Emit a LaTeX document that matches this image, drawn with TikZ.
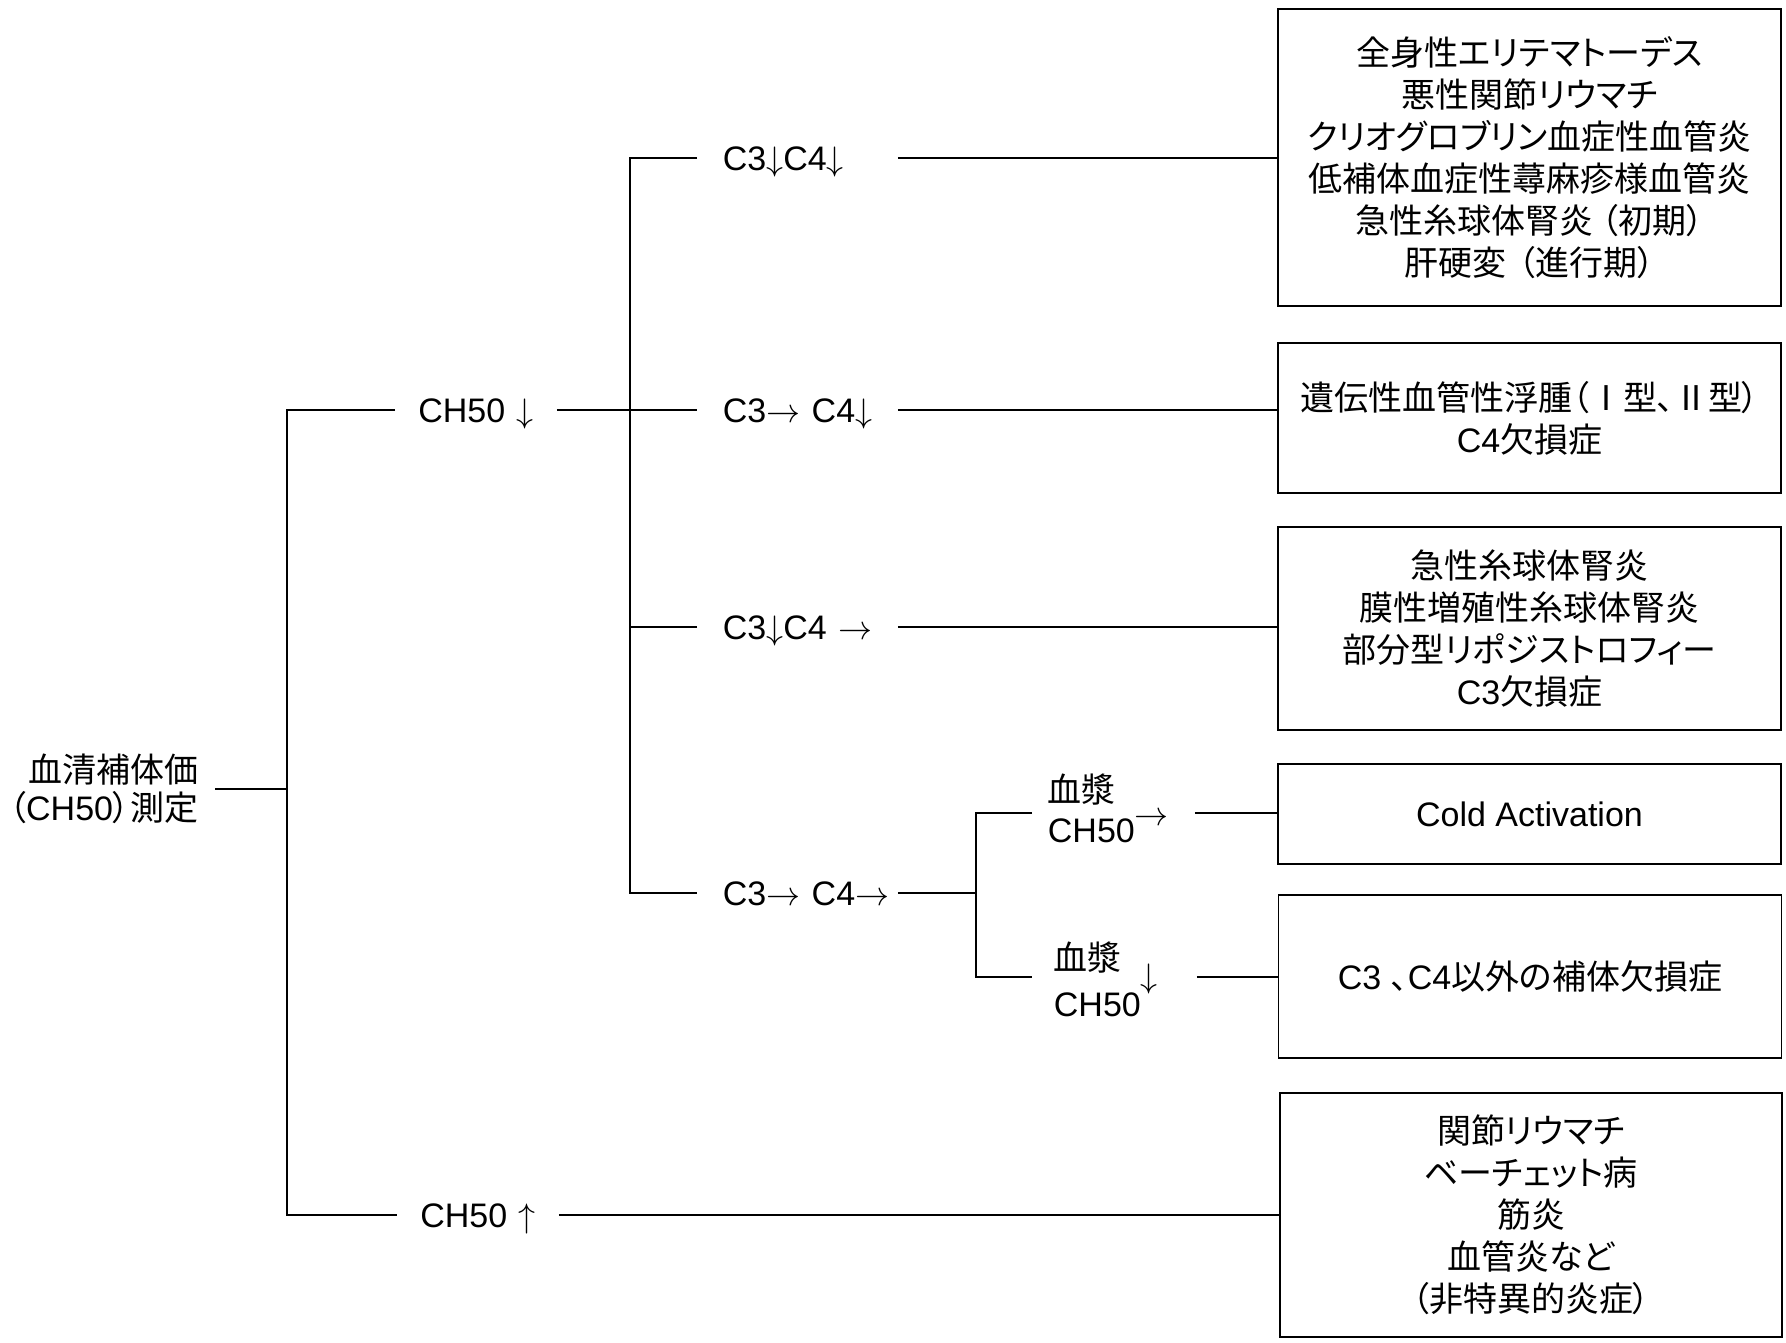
\RequirePackage{fix-cm}
\documentclass[tikz,border=0pt]{standalone}
\usepackage{fontspec}
\setmainfont{Liberation Sans}
\newfontfamily\jp[RawFeature=+palt]{Noto Sans CJK JP}
\newcommand\J[1]{{\jp #1}}
\newcommand\dn{$\downarrow$}
\newcommand\up{$\uparrow$}
\newcommand\rt{$\rightarrow$}
\begin{document}
\begin{tikzpicture}[x=1pt,y=-1pt,line width=1.8pt,
  box/.style={draw,line width=1.6pt,minimum width=503pt,align=center,inner sep=0pt,font=\fontsize{34}{42}\selectfont},
  clab/.style={anchor=west,inner xsep=25pt,inner ysep=0pt,text width=149pt,align=left,font=\fontsize{34}{40}\selectfont,text height=25pt,text depth=0pt},
  chlab/.style={inner xsep=22pt,inner ysep=0pt,text width=116pt,align=center,font=\fontsize{34}{40}\selectfont,text height=25pt,text depth=0pt},
  plab/.style={anchor=west,inner ysep=0pt,align=left}]
\useasboundingbox (0,0) rectangle (1786,1343);
% root
\node[anchor=east,align=right,inner xsep=16pt,inner ysep=0pt,font=\fontsize{34}{38}\selectfont] (root) at (215,789) {\J{血清補体価}\\\J{（}CH50\J{）測定}};
% level 1
\node[chlab] (ch50d) at (476,410) {\mbox{CH50 \dn}};
\node[chlab] (ch50u) at (478,1215) {\mbox{CH50 \up}};
% level 2
\node[clab] (c1) at (697,158) {\mbox{C3\dn C4\dn}};
\node[clab] (c2) at (697,410) {\mbox{C3\rt\ C4\dn}};
\node[clab] (c3) at (697,627) {\mbox{C3\dn C4 \rt}};
\node[clab] (c4) at (697,893) {\mbox{C3\rt\ C4\rt}};
% level 3
\node[plab,inner xsep=15pt,text width=131pt,font=\fontsize{34}{40}\selectfont,text height=20pt] (p1) at (1032,813) {\J{血漿}\\\mbox{CH50\smash{\raisebox{17pt}{\rt}}}};
\node[plab,inner xsep=21pt,text width=121pt,font=\fontsize{34}{46}\selectfont,text height=34pt] (p2) at (1032,977) {\J{血漿}\\\mbox{CH50\smash{\raisebox{29pt}{\dn}}}};
% boxes
\node[box,minimum height=297pt] (b1) at (1529.5,157.5) {\J{全身性エリテマトーデス}\\\J{悪性関節リウマチ}\\\J{クリオグロブリン血症性血管炎}\\\J{低補体血症性蕁麻疹様血管炎}\\\J{急性糸球体腎炎\kern8pt（初期）}\\\J{肝硬変\kern12pt（進行期）}};
\node[box,minimum height=150pt] (b2) at (1529.5,418) {\J{遺伝性血管性浮腫（Ⅰ型、Ⅱ型）}\\C4\J{欠損症}};
\node[box,minimum height=203pt] (b3) at (1529.5,628.5) {\J{急性糸球体腎炎}\\\J{膜性増殖性糸球体腎炎}\\\J{部分型リポジストロフィー}\\C3\J{欠損症}};
\node[box,minimum height=100pt] (b4) at (1529.5,814) {Cold Activation};
\node[box,minimum height=163pt] (b5) at (1530,976.5) {C3 \J{、}C4\J{以外の補体欠損症}};
\node[box,minimum height=244pt,minimum width=502pt] (b6) at (1531,1215) {\J{関節リウマチ}\\\J{ベーチェット病}\\\J{筋炎}\\\J{血管炎など}\\\J{（非特異的炎症）}};
% junction columns
\coordinate (A) at (287,0);
\coordinate (B) at (630,0);
\coordinate (C) at (976,0);
% connectors
\draw (root.east) -- (root.east -| A);
\draw (ch50d.west) -- (ch50d.west -| A) |- (ch50u.west);
\draw (ch50d.east) -- (c2.west);
\draw (c1.west) -- (c1.west -| B) |- (c4.west);
\draw (c3.west) -- (c3.west -| B);
\draw (c4.east) -- (c4.east -| C);
\draw (p1.west) -- (p1.west -| C) |- (p2.west);
\draw (c1.east) -- (c1.east -| b1.west);
\draw (c2.east) -- (c2.east -| b2.west);
\draw (c3.east) -- (c3.east -| b3.west);
\draw (p1.east) -- (p1.east -| b4.west);
\draw (p2.east) -- (p2.east -| b5.west);
\draw (ch50u.east) -- (ch50u.east -| b6.west);
\end{tikzpicture}
\end{document}
